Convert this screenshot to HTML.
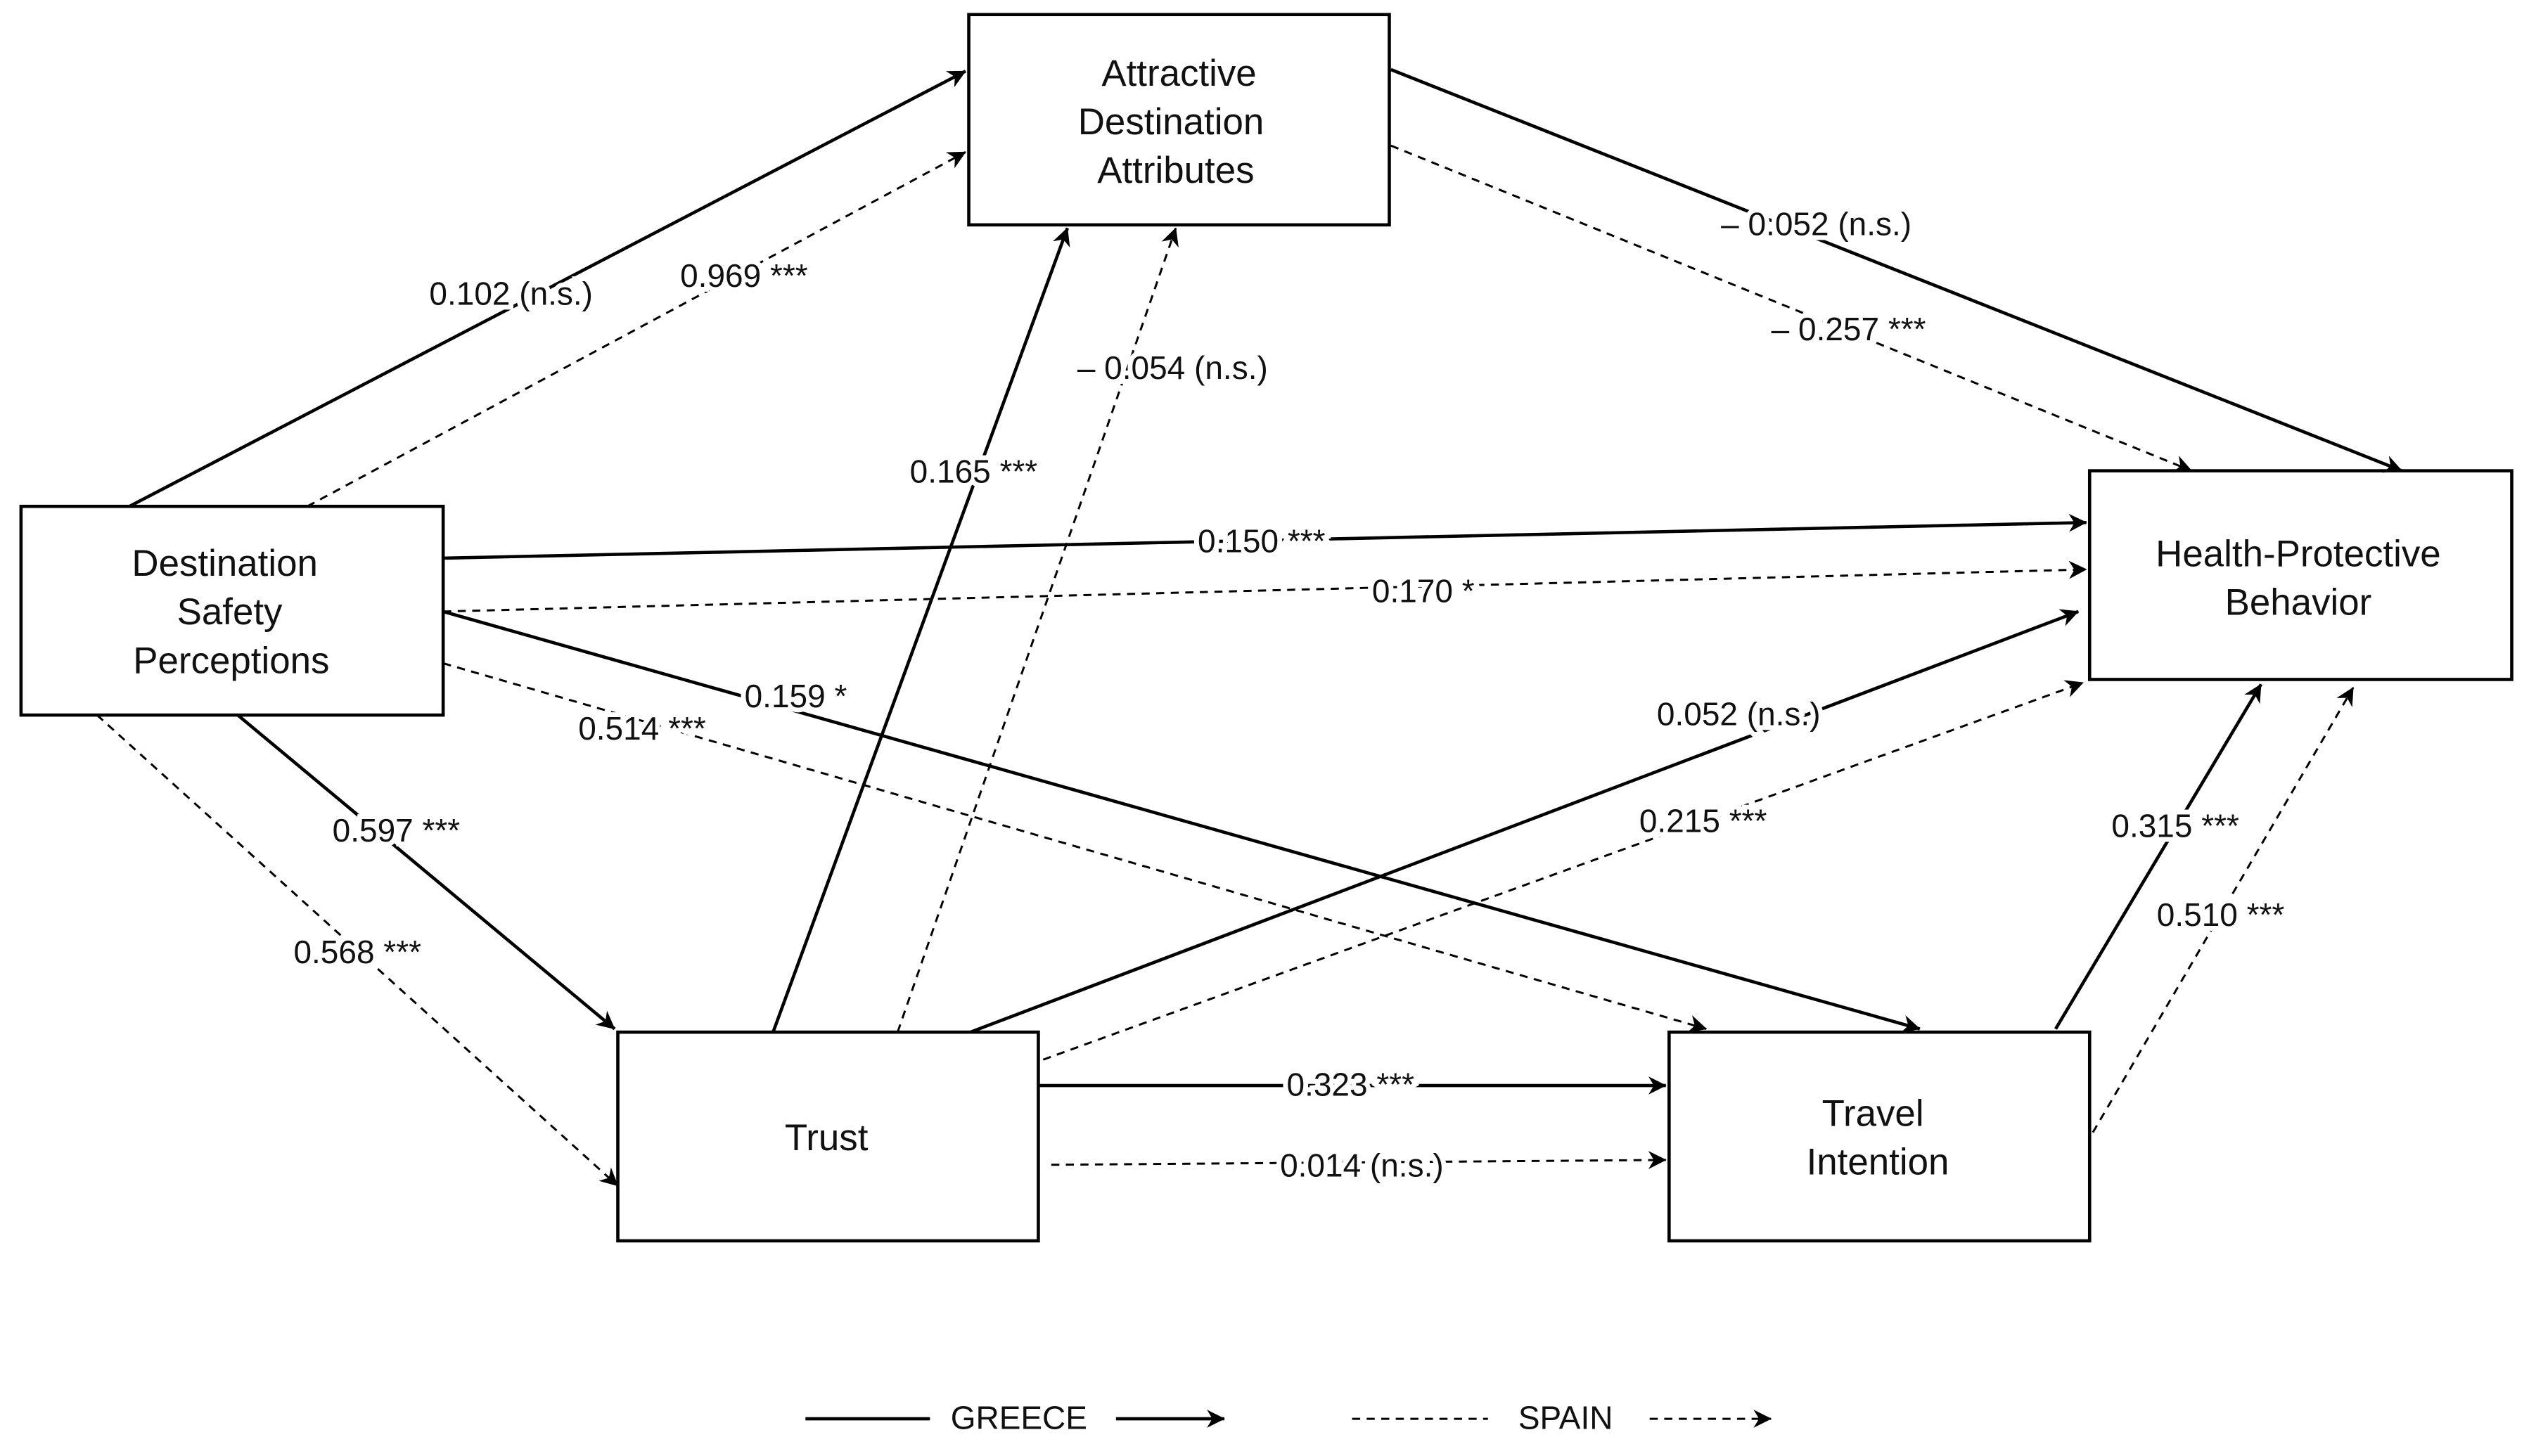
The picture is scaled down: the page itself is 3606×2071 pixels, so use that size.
<!DOCTYPE html>
<html><head><meta charset="utf-8"><style>html,body{margin:0;padding:0;background:#fff}svg{display:block}</style></head>
<body>
<svg width="3606" height="2071" viewBox="0 0 1568 900" preserveAspectRatio="none" xmlns="http://www.w3.org/2000/svg" font-family="Liberation Sans, sans-serif">
<defs>
<marker id="a" viewBox="0 0 10 10" refX="9" refY="5" markerWidth="7" markerHeight="7" orient="auto" markerUnits="userSpaceOnUse" style="overflow:visible">
<path d="M0,0 L10,5 L0,10 L3,5 Z" fill="#000" transform="scale(1.6) translate(-4,-1.9)"/>
</marker>
</defs>
<g fill="none" stroke="#000" stroke-width="2">
<rect x="599" y="9" width="260" height="130"/>
<rect x="13" y="313" width="261" height="129"/>
<rect x="1292" y="291" width="261" height="129"/>
<rect x="382" y="638" width="260" height="129"/>
<rect x="1032" y="638" width="260" height="129"/>
</g>
<g stroke="#000" stroke-width="2" fill="none" marker-end="url(#a)">
<line x1="80" y1="313" x2="597" y2="44"/>
<line x1="860" y1="43" x2="1485" y2="291"/>
<line x1="478" y1="638" x2="660" y2="141"/>
<line x1="274" y1="345" x2="1290" y2="323"/>
<line x1="274" y1="378" x2="1187" y2="636"/>
<line x1="147" y1="442" x2="380" y2="636"/>
<line x1="600" y1="638" x2="1285" y2="378"/>
<line x1="642" y1="671" x2="1030" y2="671"/>
<line x1="1271" y1="636" x2="1398" y2="423"/>
<line x1="690" y1="877" x2="757" y2="877"/>
</g>
<g stroke="#000" stroke-width="1.3" stroke-dasharray="5,4" fill="none" marker-end="url(#a)">
<line x1="190" y1="313" x2="597" y2="94"/>
<line x1="860" y1="90" x2="1355" y2="291"/>
<line x1="555" y1="638" x2="727" y2="141"/>
<line x1="274" y1="378" x2="1290" y2="352"/>
<line x1="274" y1="410" x2="1055" y2="636"/>
<line x1="60" y1="442" x2="382" y2="733"/>
<line x1="645" y1="655" x2="1288" y2="422"/>
<line x1="650" y1="720" x2="1030" y2="717"/>
<line x1="1294" y1="700" x2="1455" y2="425"/>
<line x1="1020" y1="877" x2="1095" y2="877"/>
</g>
<line x1="498" y1="877" x2="575" y2="877" stroke="#000" stroke-width="2"/>
<line x1="836" y1="877" x2="920" y2="877" stroke="#000" stroke-width="1.3" stroke-dasharray="5,4"/>
<g font-size="23" text-anchor="middle" fill="#111">
<text x="729" y="53">Attractive</text><text x="724" y="83">Destination</text><text x="727" y="113">Attributes</text>
<text x="139" y="356">Destination</text><text x="142" y="386">Safety</text><text x="143" y="416">Perceptions</text>
<text x="1421" y="350">Health-Protective</text><text x="1421" y="380">Behavior</text>
<text x="511" y="711">Trust</text>
<text x="1158" y="696">Travel</text><text x="1161" y="726">Intention</text>
</g>
<g font-size="20" text-anchor="middle" fill="#111" stroke="#fff" stroke-width="6" paint-order="stroke" dominant-baseline="middle">
<text x="316" y="183">0.102 (n.s.)</text>
<text x="460" y="172">0.969 ***</text>
<text x="1123" y="140">– 0.052 (n.s.)</text>
<text x="1143" y="205">– 0.257 ***</text>
<text x="602" y="293">0.165 ***</text>
<text x="725" y="229">– 0.054 (n.s.)</text>
<text x="780" y="336">0.150 ***</text>
<text x="880" y="367">0.170 *</text>
<text x="492" y="432">0.159 *</text>
<text x="397" y="452">0.514 ***</text>
<text x="245" y="515">0.597 ***</text>
<text x="221" y="590">0.568 ***</text>
<text x="1075" y="443">0.052 (n.s.)</text>
<text x="1053" y="509">0.215 ***</text>
<text x="835" y="672">0.323 ***</text>
<text x="842" y="722">0.014 (n.s.)</text>
<text x="1345" y="512">0.315 ***</text>
<text x="1373" y="567">0.510 ***</text>
<text x="630" y="878">GREECE</text>
<text x="968" y="878">SPAIN</text>
</g>
</svg>
</body></html>
